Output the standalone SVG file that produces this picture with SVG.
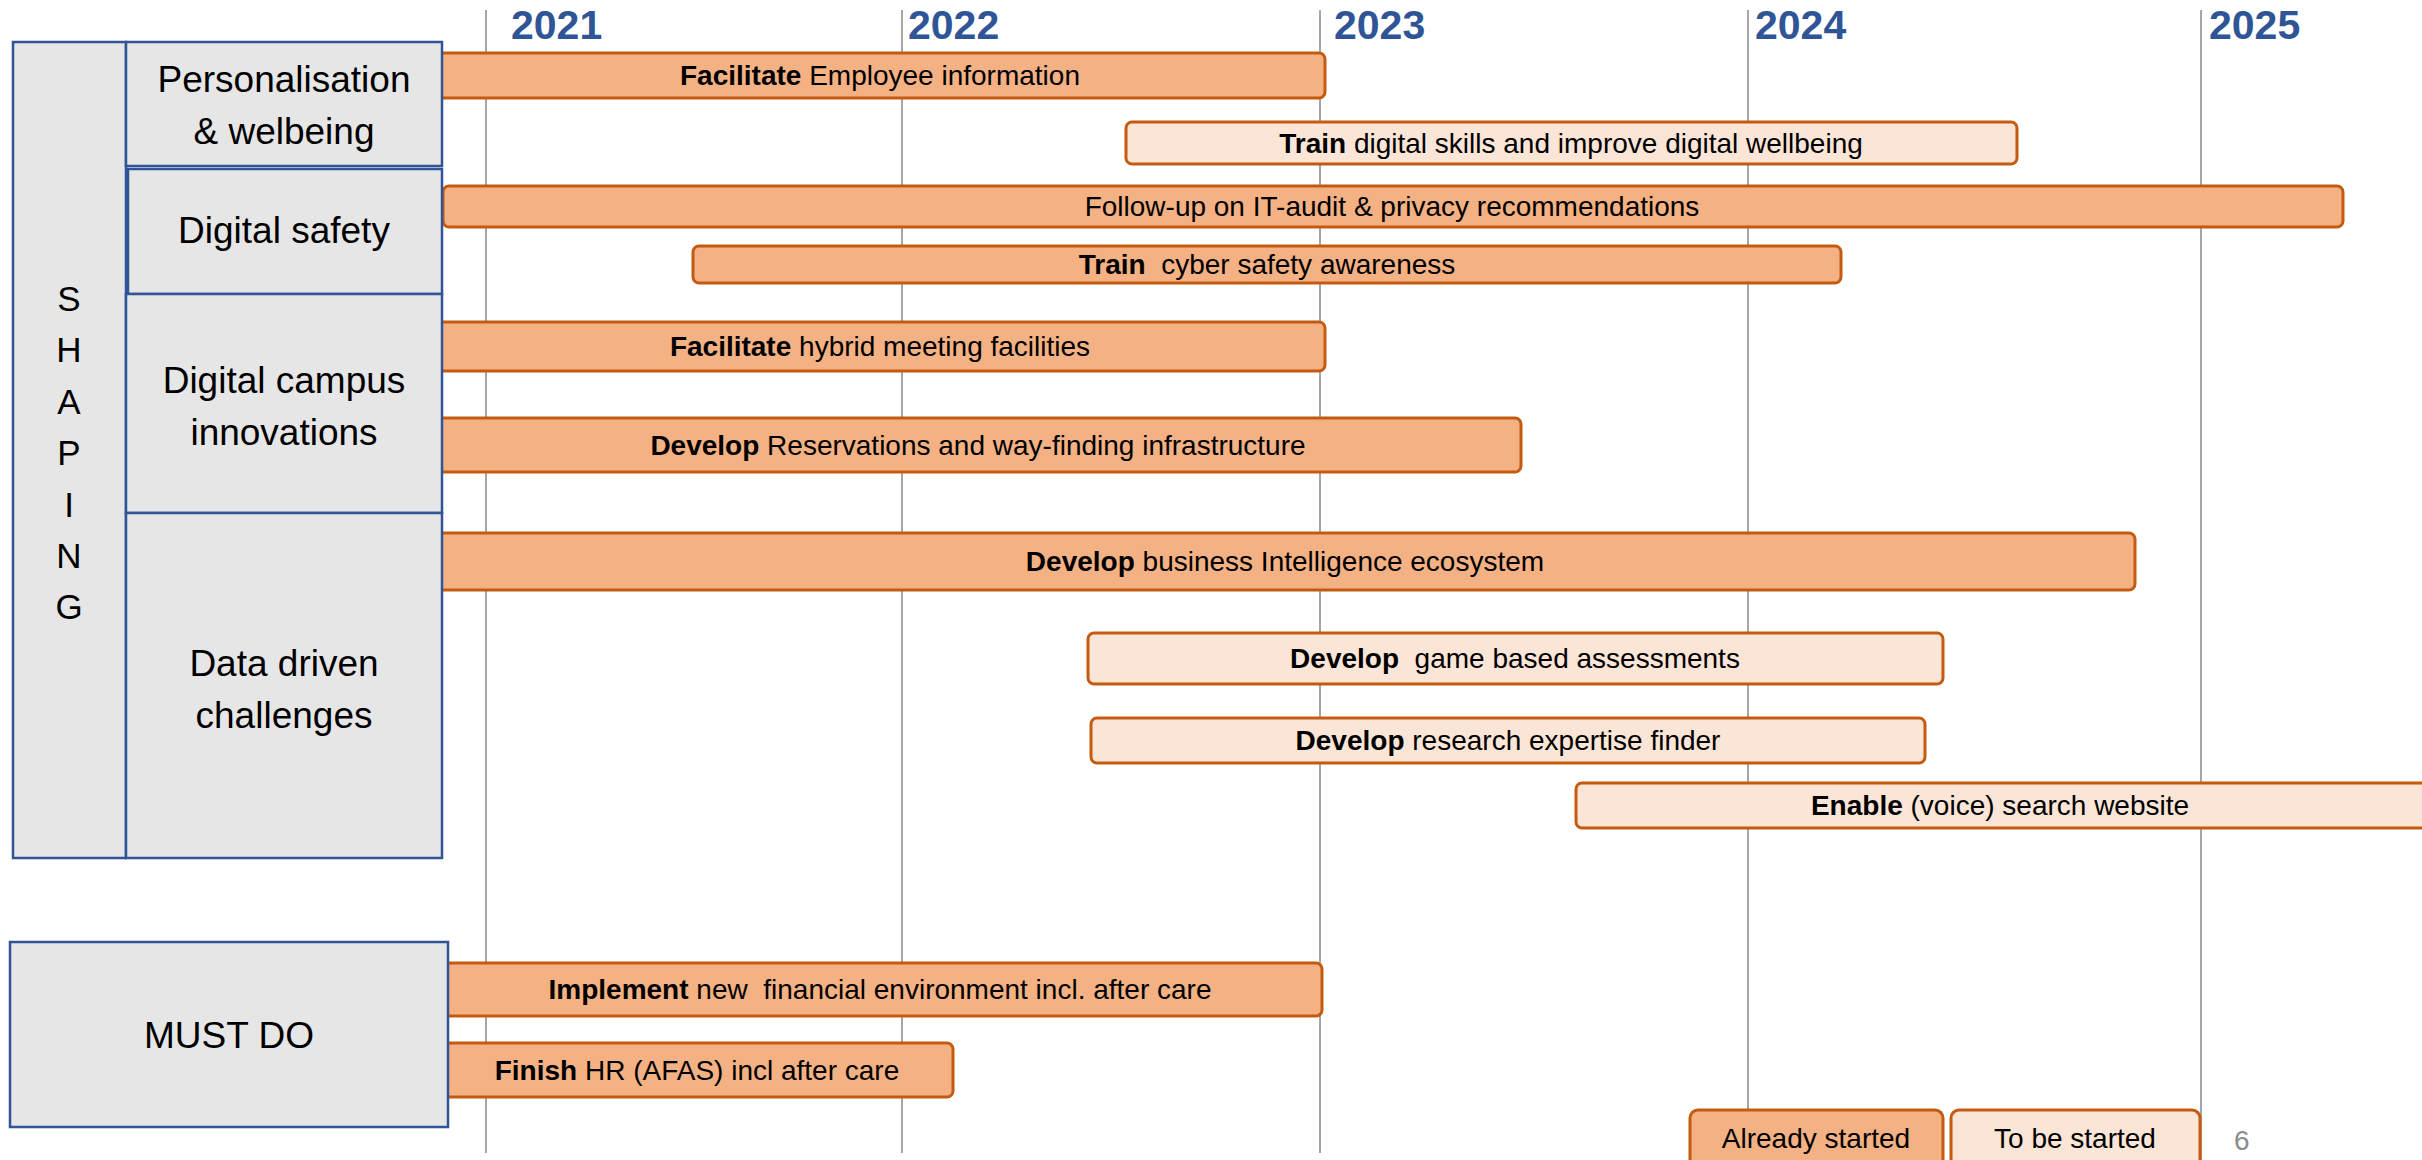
<svg xmlns="http://www.w3.org/2000/svg" width="2422" height="1160" viewBox="0 0 2422 1160">
<style>
  text { font-family: "Liberation Sans", Arial, sans-serif; fill: #000; }
  .year { font-size: 41px; font-weight: bold; fill: #2F5597; }
  .grid { stroke: #A6A6A6; stroke-width: 2; }
  .box { fill: #E7E6E6; stroke: #2F5597; stroke-width: 2.5; }
  .cat { font-size: 37px; text-anchor: middle; }
  .letter { font-size: 35px; text-anchor: middle; }
  .dark { fill: #F4B183; stroke: #C55A11; stroke-width: 3; }
  .light { fill: #FBE5D6; stroke: #C55A11; stroke-width: 3; }
  .lbl { font-size: 28px; text-anchor: middle; }
  .b { font-weight: bold; }
</style>

<g id="gridlines">
  <line class="grid" x1="486" y1="10" x2="486" y2="1153"/>
  <line class="grid" x1="902" y1="10" x2="902" y2="1153"/>
  <line class="grid" x1="1320" y1="10" x2="1320" y2="1153"/>
  <line class="grid" x1="1748" y1="10" x2="1748" y2="1153"/>
  <line class="grid" x1="2201" y1="10" x2="2201" y2="1160"/>
</g>

<g id="years">
  <text class="year" x="511" y="39">2021</text>
  <text class="year" x="908" y="39">2022</text>
  <text class="year" x="1334" y="39">2023</text>
  <text class="year" x="1755" y="39">2024</text>
  <text class="year" x="2209" y="39">2025</text>
</g>

<g id="bars">
  <g id="bar-facilitate-employee">
    <rect class="dark" x="432" y="53" width="893" height="45" rx="6"/>
    <text class="lbl" x="880" y="85"><tspan class="b">Facilitate</tspan> Employee information</text>
  </g>
  <g id="bar-train-digital">
    <rect class="light" x="1126" y="122" width="891" height="42" rx="6"/>
    <text class="lbl" x="1571" y="153"><tspan class="b">Train</tspan> digital skills and improve digital wellbeing</text>
  </g>
  <g id="bar-followup">
    <rect class="dark" x="443" y="186" width="1900" height="41" rx="6"/>
    <text class="lbl" x="1392" y="216">Follow-up on IT-audit &amp; privacy recommendations</text>
  </g>
  <g id="bar-train-cyber">
    <rect class="dark" x="693" y="246" width="1148" height="37" rx="6"/>
    <text class="lbl" x="1267" y="274" xml:space="preserve"><tspan class="b">Train</tspan>  cyber safety awareness</text>
  </g>
  <g id="bar-facilitate-hybrid">
    <rect class="dark" x="432" y="322" width="893" height="49" rx="6"/>
    <text class="lbl" x="880" y="356"><tspan class="b">Facilitate</tspan> hybrid meeting facilities</text>
  </g>
  <g id="bar-develop-reservations">
    <rect class="dark" x="432" y="418" width="1089" height="54" rx="6"/>
    <text class="lbl" x="978" y="455"><tspan class="b">Develop</tspan> Reservations and way-finding infrastructure</text>
  </g>
  <g id="bar-develop-bi">
    <rect class="dark" x="432" y="533" width="1703" height="57" rx="6"/>
    <text class="lbl" x="1285" y="571"><tspan class="b">Develop</tspan> business Intelligence ecosystem</text>
  </g>
  <g id="bar-develop-game">
    <rect class="light" x="1088" y="633" width="855" height="51" rx="6"/>
    <text class="lbl" x="1515" y="668" xml:space="preserve"><tspan class="b">Develop</tspan>  game based assessments</text>
  </g>
  <g id="bar-develop-research">
    <rect class="light" x="1091" y="718" width="834" height="45" rx="6"/>
    <text class="lbl" x="1508" y="750"><tspan class="b">Develop</tspan> research expertise finder</text>
  </g>
  <g id="bar-enable-search">
    <rect class="light" x="1576" y="783" width="870" height="45" rx="6"/>
    <text class="lbl" x="2000" y="815"><tspan class="b">Enable</tspan> (voice) search website</text>
  </g>
  <g id="bar-implement">
    <rect class="dark" x="438" y="963" width="884" height="53" rx="6"/>
    <text class="lbl" x="880" y="999" xml:space="preserve"><tspan class="b">Implement</tspan> new  financial environment incl. after care</text>
  </g>
  <g id="bar-finish">
    <rect class="dark" x="438" y="1043" width="515" height="54" rx="6"/>
    <text class="lbl" x="697" y="1080"><tspan class="b">Finish</tspan> HR (AFAS) incl after care</text>
  </g>
</g>

<g id="shaping">
  <rect class="box" x="13" y="42" width="113" height="816"/>
  <text class="letter" x="69" y="311">S</text>
  <text class="letter" x="69" y="362">H</text>
  <text class="letter" x="69" y="414">A</text>
  <text class="letter" x="69" y="465">P</text>
  <text class="letter" x="69" y="517">I</text>
  <text class="letter" x="69" y="568">N</text>
  <text class="letter" x="69" y="619">G</text>
</g>

<g id="cat-personalisation">
  <rect class="box" x="126" y="42" width="316" height="124"/>
  <text class="cat" x="284" y="92">Personalisation</text>
  <text class="cat" x="284" y="144">&amp; welbeing</text>
</g>

<g id="cat-digital-safety">
  <rect class="box" x="128" y="169" width="314" height="125"/>
  <text class="cat" x="284" y="243">Digital safety</text>
</g>

<g id="cat-digital-campus">
  <rect class="box" x="126" y="294" width="316" height="219"/>
  <text class="cat" x="284" y="393">Digital campus</text>
  <text class="cat" x="284" y="445">innovations</text>
</g>

<g id="cat-data-driven">
  <rect class="box" x="126" y="513" width="316" height="345"/>
  <text class="cat" x="284" y="676">Data driven</text>
  <text class="cat" x="284" y="728">challenges</text>
</g>

<g id="must-do">
  <rect class="box" x="10" y="942" width="438" height="185"/>
  <text class="cat" x="229" y="1048">MUST DO</text>
</g>

<g id="legend">
  <g id="legend-already">
    <rect class="dark" x="1690" y="1110" width="253" height="70" rx="8"/>
    <text class="lbl" x="1816" y="1148">Already started</text>
  </g>
  <g id="legend-tobe">
    <rect class="light" x="1951" y="1110" width="249" height="70" rx="8"/>
    <text class="lbl" x="2075" y="1148">To be started</text>
  </g>
</g>

<text x="2234" y="1150" style="font-size:28px; fill:#8C8C8C">6</text>
</svg>
